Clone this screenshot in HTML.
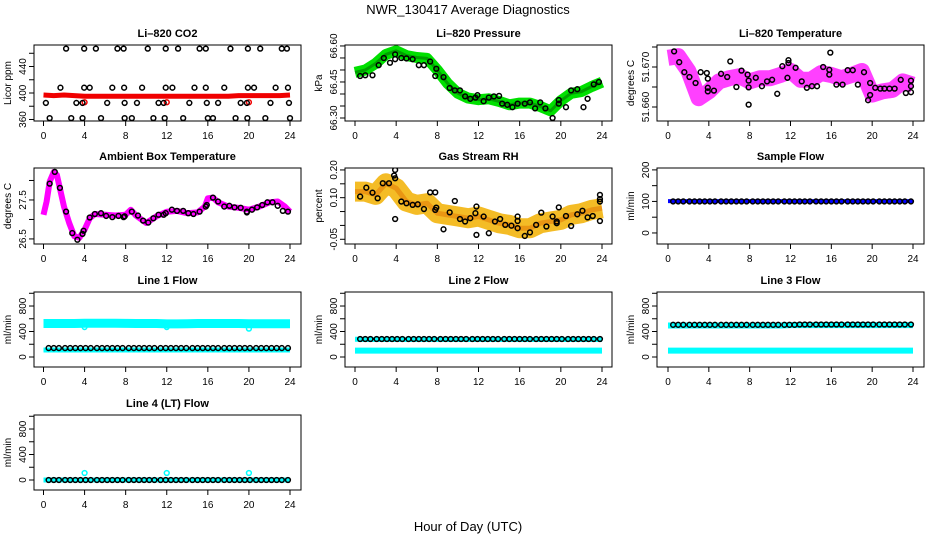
<!DOCTYPE html>
<html><head><meta charset="utf-8">
<style>
html,body{margin:0;padding:0;background:#fff;}
svg{display:block;font-family:"Liberation Sans",Arial,sans-serif;}
</style></head>
<body>
<svg id="chart" width="936" height="540" viewBox="0 0 936 540" xmlns="http://www.w3.org/2000/svg">
<defs id="defs"></defs>
<text x="468" y="14" font-size="13" text-anchor="middle">NWR_130417  Average Diagnostics</text>
<text x="468" y="531" font-size="13" text-anchor="middle">Hour of Day (UTC)</text>
</svg>
<script>
// ---------- data ----------
const bandHours = [0,1,2,3,4,5,6,7,8,9,10,11,12,13,14,15,16,17,18,19,20,21,22,23,24];

const co2Band = [397,396,397,396,395,395,395,395,395,395,395,395,395,395,395,395,395,395,395,396,396,396,396,396,397];
const co2Hours = [2.2,3.96,5.1,7.2,7.8,10.15,11.9,13.1,15.2,15.8,18.2,19.9,21.1,23.2,23.7,
 1.65,3.96,4.5,6.7,7.85,9.6,11.9,12.55,14.7,15.8,17.6,19.9,20.5,22.6,23.8,
 0.23,3.2,3.8,6.2,7.9,9.1,11.2,11.7,14.2,15.9,17.0,19.2,19.8,22.1,23.9,
 0.6,2.7,3.8,5.6,7.9,8.6,10.7,11.8,13.6,16.0,16.5,18.7,19.85,21.6,24.0];
const co2Values = [467,467,467,467,467,467,467,467,467,467,467,467,467,467,467,
 408,408,408,408,408,408,408,408,408,408,408,408,408,408,408,
 385,385,385,385,385,385,385,385,385,385,385,385,385,385,385,
 362,362,362,362,362,362,362,362,362,362,362,362,362,362,362];

const presBand = [66.49,66.50,66.527,66.565,66.58,66.56,66.552,66.548,66.50,66.444,66.403,66.383,66.376,66.38,66.369,66.355,66.362,66.362,66.348,66.33,66.372,66.403,66.41,66.431,66.449];
const presHours = [0.5,1.0,1.7,2.3,2.8,3.4,3.9,3.9,4.5,5.0,5.6,6.2,6.7,7.3,7.8,7.9,8.6,9.2,9.7,10.2,10.7,11.2,11.7,11.9,12.5,13.0,13.5,14.0,14.3,14.8,15.3,15.8,16.5,17.0,17.5,18.0,18.5,19.2,19.8,19.8,20.5,21.0,21.6,22.2,22.6,23.2,23.7];
const presValues = [66.475,66.478,66.478,66.52,66.55,66.53,66.565,66.545,66.55,66.548,66.545,66.52,66.52,66.535,66.475,66.505,66.47,66.425,66.415,66.415,66.39,66.38,66.385,66.395,66.37,66.385,66.39,66.392,66.36,66.355,66.345,66.36,66.36,66.365,66.34,66.365,66.34,66.30,66.375,66.36,66.345,66.415,66.42,66.345,66.38,66.44,66.45];

const tempBand = [51.6723,51.6727,51.669,51.6622,51.6639,51.6664,51.6672,51.6677,51.6664,51.6672,51.6672,51.668,51.669,51.6668,51.6668,51.6685,51.668,51.6672,51.668,51.669,51.6631,51.6639,51.6643,51.6664,51.6656];
const tempHours = [0.6,1.1,1.6,2.1,2.7,3.2,3.8,3.9,3.9,3.9,4.5,5.2,5.8,6.1,6.7,7.2,7.8,7.9,7.9,7.9,8.6,9.2,9.7,10.2,10.7,11.2,11.7,11.8,11.8,12.5,13.1,13.6,14.1,14.6,15.2,15.8,15.8,15.9,16.5,17.1,17.6,18.1,18.6,19.2,19.8,19.8,19.6,20.3,20.8,21.2,21.7,22.2,22.8,23.3,23.8,23.8,23.8];
const tempValues = [51.6739,51.6712,51.6687,51.6675,51.666,51.6687,51.6685,51.6671,51.6648,51.6639,51.6641,51.6683,51.6675,51.6714,51.665,51.6691,51.6681,51.6666,51.6649,51.6606,51.6673,51.6652,51.6664,51.6668,51.6633,51.6702,51.6673,51.6717,51.671,51.6698,51.6664,51.6648,51.6652,51.6652,51.67,51.6693,51.6681,51.6736,51.6656,51.6656,51.6692,51.6692,51.6656,51.6687,51.666,51.663,51.6617,51.6648,51.6646,51.6646,51.6646,51.6646,51.6668,51.6635,51.6666,51.6652,51.6637];

const ambHoursBand = [0,0.3,0.6,1,1.3,1.6,2,2.5,3,3.5,4,4.5,5,6,7,8,8.5,9,10,11,12,13,14,15,15.7,16,16.5,17,18,19,20,21,22,22.8,23.5,24];
const ambBand = [27.12,27.46,27.97,28.22,28.14,27.8,27.33,26.91,26.57,26.53,26.74,27.03,27.14,27.12,27.1,27.12,27.25,27.1,26.91,27.08,27.2,27.22,27.16,27.18,27.33,27.54,27.56,27.44,27.33,27.3,27.25,27.33,27.44,27.46,27.33,27.2];
const ambHours = [0.6,1.1,1.6,2.2,2.8,3.3,3.8,3.9,4.5,5.0,5.6,6.1,6.7,7.3,7.8,7.9,8.6,9.2,9.7,10.2,10.7,11.2,11.7,11.9,12.5,13.0,13.6,14.1,14.6,15.2,15.8,15.9,16.5,17.0,17.6,18.1,18.6,19.2,19.8,19.8,20.3,20.8,21.3,21.8,22.3,22.8,23.3,23.8];
const ambValues = [27.92,28.22,27.81,27.2,26.65,26.48,26.63,26.71,27.05,27.14,27.16,27.09,27.06,27.09,27.06,27.08,27.2,27.1,26.97,26.92,27.03,27.12,27.12,27.16,27.25,27.22,27.22,27.16,27.14,27.2,27.33,27.37,27.56,27.46,27.33,27.35,27.31,27.3,27.2,27.18,27.25,27.31,27.37,27.44,27.44,27.35,27.22,27.2];

const rhBand = [0.122,0.122,0.11,0.152,0.134,0.086,0.074,0.08,0.044,0.038,0.032,0.026,0.032,0.02,0.008,0.002,-0.01,-0.01,0.008,0.014,0.02,0.038,0.044,0.056,0.062];
const rhHours = [0.5,1.1,1.7,2.2,2.7,3.3,3.8,3.9,3.9,3.9,4.5,5.0,5.6,6.1,6.7,7.3,7.8,7.8,7.9,8.6,9.2,9.7,10.2,10.7,11.2,11.7,11.8,11.8,12.5,13.0,13.6,14.1,14.6,15.2,15.8,15.8,15.8,16.5,17.0,17.6,18.1,18.6,19.2,19.6,19.6,19.8,20.5,21.0,21.6,22.1,22.6,23.1,23.8,23.8,23.8,23.8];
const rhValues = [0.104,0.136,0.118,0.098,0.152,0.152,0.18,0.17,0.2,0.023,0.086,0.08,0.074,0.076,0.059,0.119,0.119,0.056,0.064,-0.014,0.047,0.088,0.023,0.014,0.026,0.044,0.068,-0.034,0.032,-0.028,0.014,0.023,0.002,-0.001,0.032,0.016,-0.01,-0.038,-0.025,0.002,0.046,-0.004,0.032,0.008,0.014,0.065,0.034,-0.002,0.04,0.053,0.029,0.034,0.11,0.095,0.086,0.016];

const flowHours = [0.5,1.0,1.5,2.1,2.6,3.1,3.6,4.1,4.6,5.2,5.7,6.2,6.7,7.2,7.7,8.3,8.8,9.3,9.8,10.3,10.8,11.4,11.9,12.4,12.9,13.4,13.9,14.5,15.0,15.5,16.0,16.5,17.0,17.6,18.1,18.6,19.1,19.6,20.1,20.7,21.2,21.7,22.2,22.7,23.2,23.8];
const sampleBlack = [100,100,100,100,100,100,100,100,100,100,100,100,100,100,100,100,100,100,100,100,100,100,100,100,100,100,100,100,100,100,100,100,100,100,100,100,100,100,100,100,100,100,100,100,100,100];
const sampleBand = [101,101,101,101,101,101,101,101,101,101,101,101,101,101,101,101,101,101,101,101,101,101,101,101,101];
const line1Black = [140,140,140,140,140,140,140,140,140,140,140,140,140,140,140,140,140,140,140,140,140,140,140,140,140,140,140,140,140,140,140,140,140,140,140,140,140,140,140,140,140,140,140,140,140,140];
const line1Upper = [525,525,525,525,530,530,530,530,528,525,525,525,520,520,522,525,525,525,525,525,522,522,522,522,522];
const line1Lower = [110,110,110,110,110,110,110,110,110,110,110,110,110,110,110,110,110,110,110,110,110,110,110,110,110];
const line2Black = [282,282,282,282,282,282,282,282,282,282,282,282,282,282,282,282,282,282,282,282,282,282,282,282,282,282,282,282,282,282,282,282,282,282,282,282,282,282,282,282,282,282,282,282,282,282];
const line2Upper = [280,275,275,275,275,275,275,275,275,275,275,275,275,275,275,275,275,275,275,275,275,275,275,275,275];
const line2Lower = [100,100,100,100,100,100,100,100,100,100,100,100,100,100,100,100,100,100,100,100,100,100,100,100,100];
const line3Black = [505,505,505,505,505,505,505,505,505,505,505,505,505,505,505,505,505,505,505,505,505,505,505,505,510,510,510,510,510,510,510,510,510,510,510,510,510,510,510,510,510,510,510,510,510,510];
const line3Upper = [495,495,495,495,495,495,495,495,495,495,495,495,500,500,500,500,500,500,500,500,500,500,500,500,500];
const line3Lower = [100,100,100,100,100,100,100,100,100,100,100,100,100,100,100,100,100,100,100,100,100,100,100,100,100];
const line4Black = [0,0,0,0,0,0,0,0,0,0,0,0,0,0,0,0,0,0,0,0,0,0,0,0,0,0,0,0,0,0,0,0,0,0,0,0,0,0,0,0,0,0,0,0,0,0];
const line4Band = [0,0,0,0,0,0,0,0,0,0,0,0,0,0,0,0,0,0,0,0,0,0,0,0,0];
const line4SpikeHours = [4,12,20];
const line4SpikeValues = [110,110,110];
const flowDipHours = [4,12,20];
const line1DipValues = [470,470,445];
const xTicks = [0,4,8,12,16,20,24];

// ---------- layout ----------
const NS = "http://www.w3.org/2000/svg";
const svg = document.getElementById('chart');
const defs = document.getElementById('defs');
const colL = [34,345,657], colR = [301,612,924], colX0 = [43.5,355,668], colX24 = [290,602,913];
const rowT = [45,168,292,415], rowB = [121,244,367,490];
let clipCount = 0;

function mk(tag, attrs, parent){
  const e = document.createElementNS(NS, tag);
  for (const k in attrs) e.setAttribute(k, attrs[k]);
  (parent||svg).appendChild(e);
  return e;
}

function panel(name, title, ylab, col, row, ymin, ymax, ticks, labels){
  const g = mk('g', {});
  
  
  const L = colL[col], R = colR[col], T = rowT[row], B = rowB[row];
  const xs = h => colX0[col] + (colX24[col]-colX0[col]) * h / 24;
  const ys = v => B - (v - ymin) / (ymax - ymin) * (B - T);
  const t = mk('text', {x:(L+R)/2, y:T-8, 'font-size':11, 'font-weight':'bold', 'text-anchor':'middle'}, g);
  t.textContent = title;
  
  
  const yl = mk('text', {x:0, y:0, 'font-size':10, 'text-anchor':'middle', transform:`translate(${L-23},${(T+B)/2}) rotate(-90)`}, g);
  yl.textContent = ylab;
  
  
  xTicks.forEach(h => {
    const x = xs(h);
    mk('line', {x1:x, y1:B, x2:x, y2:B+5, stroke:'#000', 'stroke-width':1}, g);
    const tl = mk('text', {x:x, y:B+18, 'font-size':10, 'text-anchor':'middle'}, g);
    tl.textContent = h;
    
    
  });
  ticks.forEach((v,i) => {
    const y = ys(v);
    mk('line', {x1:L-5, y1:y, x2:L, y2:y, stroke:'#000', 'stroke-width':1}, g);
    if (labels[i]) {
      const tl = mk('text', {x:0, y:0, 'font-size':10, 'text-anchor':'middle', transform:`translate(${L-8},${y}) rotate(-90)`}, g);
      tl.textContent = labels[i];
      
      
    }
  });
  const id = 'clip' + (clipCount++);
  const cp = mk('clipPath', {id:id}, defs);
  mk('rect', {x:L, y:T, width:R-L, height:B-T}, cp);
  const clip = mk('g', {'clip-path':`url(#${id})`}, g);
  const box = mk('rect', {x:L, y:T, width:R-L, height:B-T, fill:'none', stroke:'#000', 'stroke-width':1}, g);
  
  
  return {g:clip, xs, ys};
}

function band(p, hours, vals, color, w, name, op){
  const pts = hours.map((h,i) => p.xs(h).toFixed(1) + ',' + p.ys(vals[i]).toFixed(1)).join(' ');
  const pl = mk('polyline', {points:pts, fill:'none', stroke:color, 'stroke-width':w, 'stroke-linecap':'butt', 'stroke-linejoin':'round', 'stroke-opacity':op||1}, p.g);
  
  
}
function pts(p, hours, vals, color, name, r, sw){
  hours.forEach((h,i) => {
    const c = mk('circle', {cx:p.xs(h), cy:p.ys(vals[i]), r:r||2.4, fill:'none', stroke:color, 'stroke-width':sw||1.5}, p.g);
    
    
  });
}

let p = panel('co2', 'Li\u2013820 CO2', 'Licor ppm', 0, 0, 357.7, 472.5, [360,380,400,420,440,460], ['360','','400','','440','']);
band(p, bandHours, co2Band, '#f00000', 5, 'co2-series');
pts(p, [4,12,20], [386,386,386], '#f00000', 'co2-point');
pts(p, co2Hours, co2Values, '#000', 'co2-avg-point');

p = panel('pressure', 'Li\u2013820 Pressure', 'kPa', 1, 0, 66.2875, 66.604, [66.30,66.35,66.40,66.45,66.50,66.55,66.60], ['66.30','','','66.45','','','66.60']);
band(p, bandHours, presBand, '#00e000', 11, 'pressure-series');
band(p, bandHours, presBand, '#006000', 3, 'pressure-series-core', 0.5);
pts(p, presHours, presValues, '#000', 'pressure-avg-point');

p = panel('li-temp', 'Li\u2013820 Temperature', 'degrees C', 2, 0, 51.6565, 51.6755, [51.660,51.665,51.670,51.675], ['51.660','','51.670','']);
band(p, bandHours, tempBand, '#ff00ff', 16, 'li-temp-series', 0.75);
pts(p, tempHours, tempValues, '#000', 'li-temp-avg-point');

p = panel('ambient-temp', 'Ambient Box Temperature', 'degrees C', 0, 1, 26.37, 28.32, [26.5,27.0,27.5,28.0], ['26.5','','27.5','']);
band(p, ambHoursBand, ambBand, '#ff00ff', 6, 'ambient-temp-series');
pts(p, ambHours, ambValues, '#000', 'ambient-temp-avg-point');

p = panel('rh', 'Gas Stream RH', 'percent', 1, 1, -0.067, 0.207, [-0.05,0,0.05,0.10,0.15,0.20], ['-0.05','','','0.10','','0.20']);
band(p, bandHours, rhBand, '#f2b000', 20, 'rh-series', 0.85);
band(p, bandHours, rhBand, '#e07000', 5, 'rh-series-core', 0.5);
pts(p, rhHours, rhValues, '#000', 'rh-avg-point');

p = panel('sample-flow', 'Sample Flow', 'ml/min', 2, 1, -35, 206, [0,50,100,150,200], ['0','','100','','200']);
band(p, bandHours, sampleBand, '#0000ff', 4, 'sample-flow-series');
pts(p, flowHours, sampleBlack, '#000', 'sample-flow-avg-point');

const fTicks = [0,200,400,600,800,1000], fLabels = ['0','','400','','800',''];
p = panel('line1-flow', 'Line 1 Flow', 'ml/min', 0, 2, -157, 1020, fTicks, fLabels);
band(p, bandHours, line1Upper, '#00ffff', 9, 'line1-flow-series');
band(p, bandHours, line1Lower, '#00ffff', 5, 'line1-lower-series');
pts(p, flowDipHours, line1DipValues, '#00ffff', 'line1-dip-point');
pts(p, flowHours, line1Black, '#000', 'line1-avg-point');

p = panel('line2-flow', 'Line 2 Flow', 'ml/min', 1, 2, -157, 1020, fTicks, fLabels);
band(p, bandHours, line2Upper, '#00ffff', 5, 'line2-flow-series');
band(p, bandHours, line2Lower, '#00ffff', 6, 'line2-lower-series');
pts(p, flowHours, line2Black, '#000', 'line2-avg-point');

p = panel('line3-flow', 'Line 3 Flow', 'ml/min', 2, 2, -157, 1020, fTicks, fLabels);
band(p, bandHours, line3Upper, '#00ffff', 6, 'line3-flow-series');
band(p, bandHours, line3Lower, '#00ffff', 6, 'line3-lower-series');
pts(p, flowHours, line3Black, '#000', 'line3-avg-point');

p = panel('line4-flow', 'Line 4 (LT) Flow', 'ml/min', 0, 3, -157, 1020, fTicks, fLabels);
band(p, bandHours, line4Band, '#00ffff', 5, 'line4-flow-series');
pts(p, line4SpikeHours, line4SpikeValues, '#00ffff', 'line4-spike-point');
pts(p, flowHours, line4Black, '#000', 'line4-avg-point');
</script>
</body></html>
